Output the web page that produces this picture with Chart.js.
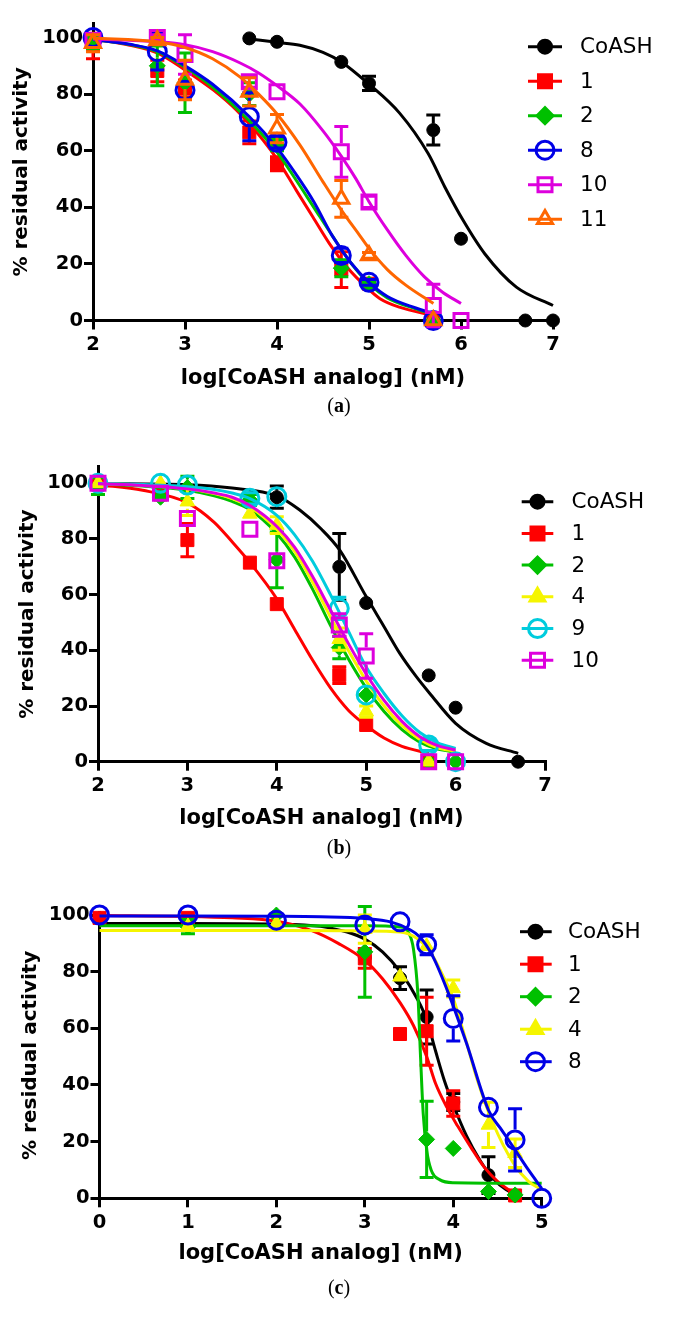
<!DOCTYPE html>
<html>
<head>
<meta charset="utf-8">
<script src="https://cdn.jsdelivr.net/npm/chart.js@4.4.1/dist/chart.umd.min.js"></script>
<style>
  html, body { margin: 0; padding: 0; background: #fff; }
  body { width: 678px; height: 1325px; position: relative; overflow: hidden; }
  canvas { position: absolute; left: 0; }
  .caption { position: absolute; left: 0; width: 678px; height: 22px; line-height: 22px; text-align: center;
             font-family: 'Liberation Serif', serif; font-size: 20px; color: #000; }
</style>
</head>
<body>
<canvas id="chartA" width="678" height="400" style="top:0"></canvas>
<div class="caption" style="top:394px">(<b>a</b>)</div>
<canvas id="chartB" width="678" height="410" style="top:430px"></canvas>
<div class="caption" style="top:836px">(<b>b</b>)</div>
<canvas id="chartC" width="678" height="410" style="top:870px"></canvas>
<div class="caption" style="top:1276px">(<b>c</b>)</div>

<script>
// ---------- panel (a) ----------
const concA = [2, 2.699, 3, 3.699, 4, 4.699, 5, 5.699, 6, 6.699, 7];
const coashA = [null, null, null, 99.7, 98.5, 91.4, 83.8, 67.3, 28.9, 0, 0];
const coashAErr = [0, 0, 0, 0, 0, 0, 2.5, 5.3, 0, 0, 0];
const cmp1A = [97, 88.2, 82, 66.5, 55.4, 18, 13, 0, null, null, null];
const cmp1AErr = [4.5, 3.8, 3, 4, 2.5, 6.3, 0, 0, 0, 0, 0];
const cmp2A = [98, 90, 84, 80, 62, 18.5, 13, 0, null, null, null];
const cmp2AErr = [2, 7, 10.5, 4, 2, 3, 1, 0, 0, 0, 0];
const cmp8A = [100, 95, 81.4, 72, 63, 23, 13.5, 0, null, null, null];
const cmp8AErr = [0, 6.5, 3, 8.5, 2, 2.5, 1, 0, 0, 0, 0];
const cmp10A = [99, 100, 94, 84.4, 80.8, 59.6, 41.9, 5.3, 0, null, null];
const cmp10AErr = [0, 1, 7, 2, 0, 9, 2, 7.5, 0, 0, 0];
const cmp11A = [98, 99, 85, 80.8, 67.8, 43, 23, 0, null, null, null];
const cmp11AErr = [3, 1, 7, 5, 5, 6.5, 1, 0, 0, 0, 0];

// fitted curves
const fitCoashAX = [3.699, 4.0, 4.248, 4.5, 4.70, 4.99, 5.335, 5.643, 5.824, 6.023, 6.258, 6.602, 7.0];
const fitCoashAY = [99.5, 98.3, 97.3, 94.8, 91.4, 83.8, 73.2, 59, 47.2, 35.4, 23.6, 11.8, 5.3];
const fit1AX = [2.0, 2.4, 2.71, 3.0, 3.31, 3.56, 3.85, 4.01, 4.21, 4.39, 4.57, 4.76, 4.97, 5.12, 5.33, 5.7];
const fit1AY = [99.4, 97.3, 94.4, 88.5, 81.4, 74.3, 63.7, 56.6, 46, 36.6, 27.2, 18.9, 11.8, 7.7, 4.7, 1.8];
const fit2AX = [2.0, 2.4, 2.7, 3.0, 3.3, 3.7, 4.0, 4.2, 4.4, 4.6, 4.8, 5.0, 5.2, 5.5, 5.7];
const fit2AY = [99.3, 97.5, 95, 89.5, 82.5, 70.5, 59.5, 50, 40, 30, 20.5, 13, 8, 4.2, 2.2];
const fit8AX = [2.0, 2.4, 2.7, 3.0, 3.3, 3.7, 4.0, 4.2, 4.4, 4.6, 4.8, 5.0, 5.2, 5.5, 5.7];
const fit8AY = [99.3, 97.6, 95.3, 90, 83.5, 72, 61, 52, 42, 30, 20.5, 13.5, 8.5, 4.5, 2.5];
const fit10AX = [2.0, 2.7, 3.0, 3.3, 3.6, 3.8, 4.0, 4.25, 4.5, 4.7, 4.85, 5.0, 5.2, 5.4, 5.6, 5.8, 6.0];
const fit10AY = [99.5, 98.5, 97.5, 95, 91, 87.5, 83, 76.5, 67, 58, 50.5, 42, 32, 23, 15.5, 10, 6];
const fit11AX = [2.0, 2.7, 3.0, 3.3, 3.6, 3.8, 4.0, 4.25, 4.5, 4.7, 4.9, 5.0, 5.2, 5.4, 5.7];
const fit11AY = [99.8, 98.5, 96.5, 92.5, 86, 80, 73, 62, 49, 39, 30, 25.5, 18, 12.5, 6];

// ---------- panel (b) ----------
const concB = [2, 2.699, 3, 3.699, 4, 4.699, 5, 5.699, 6, 6.699];
const coashB = [null, null, null, null, 95, 70, 57, 31, 19.4, 0];
const coashBErr = [0, 0, 0, 0, 4, 12, 0, 0, 0, 0];
const cmp1B = [100, 96, 79.6, 71.5, 56.6, 31.1, 13.2, 0, null, null];
const cmp1BErr = [0, 0, 6, 0, 0, 3, 0, 0, 0, 0];
const cmp2B = [99, 95, 98.5, 94, 72.5, 41, 24, 0, 0, null];
const cmp2BErr = [3, 0, 4, 2, 10, 4, 0, 0, 0, 0];
const cmp4B = [100, 100, 93.4, 89, 85, 44, 18, 0, null, null];
const cmp4BErr = [0, 0, 5, 0, 3, 4, 2, 0, 0, 0];
const cmp9B = [100, 100, 99.4, 94.6, 95.2, 55.1, 24, 6, 0, null];
const cmp9BErr = [0, 0, 0, 2, 0, 4, 0, 2, 0, 0];
const cmp10B = [100, 96.4, 87.4, 83.5, 72.2, 49.1, 38, 0, 0, null];
const cmp10BErr = [0, 0, 0, 0, 0, 4, 8, 0, 0, 0];

const fitCoashBX = [2, 3, 3.5, 4.0, 4.257, 4.5, 4.704, 5.0, 5.2, 5.374, 5.55, 5.709, 6.0, 6.343, 6.7];
const fitCoashBY = [99.9, 99.5, 98.3, 95.5, 90.4, 83.5, 76, 59.3, 48.5, 39, 31, 24.6, 13.8, 6.6, 3];
const fit1BX = [2, 2.5, 3, 3.3, 3.5, 3.7, 4.0, 4.2, 4.4, 4.6, 4.8, 5.0, 5.2, 5.4, 5.7];
const fit1BY = [99.5, 97.5, 93, 86, 79, 71.5, 58.5, 47.5, 36.5, 26.5, 18.5, 13, 8.5, 5.5, 3];
const fitGridBX = [2, 2.5, 3, 3.3, 3.5, 3.7, 4.0, 4.2, 4.4, 4.6, 4.8, 5.0, 5.2, 5.4, 5.6, 5.8, 6.0];
const fit2BY = [99.8, 99, 97.5, 95.5, 93.5, 90.5, 82, 73.5, 62, 49, 37, 26.5, 18, 11.5, 7, 4.5, 3.5];
const fit4BY = [99.9, 99.3, 98, 96.3, 94.5, 91.5, 83.5, 75.5, 64.5, 52, 40, 29, 20, 13, 8, 5, 3.8];
const fit9BY = [99.9, 99.6, 98.8, 97.8, 96.5, 94.5, 88.5, 81.5, 72, 60, 47, 34, 24.5, 16.5, 10.5, 6.8, 4.8];
const fit10BY = [99.8, 99.2, 98, 96.5, 95, 92, 84.5, 77, 66.5, 54.5, 42.5, 31.5, 22, 14.5, 9, 5.8, 4.2];

// ---------- panel (c) ----------
const concC = [0, 1, 2, 3, 3.398, 3.699, 4, 4.398, 4.699, 5];
const coashC = [null, null, null, 85, 77.7, 64, 34, 8.2, 1, null];
const coashCErr = [0, 0, 0, 0, 4, 9.5, 3, 6.5, 0, 0];
const cmp1C = [99, 99, null, 84.7, 58, 59, 33.5, null, 1, null];
const cmp1CErr = [0, 0, 0, 3.5, 0, 12, 4.5, 0, 0, 0];
const cmp2C = [null, 95.9, 100, 87, null, 20.8, 17.6, 2.4, 1.2, null];
const cmp2CErr = [0, 2.5, 0, 16, 0, 13.5, 0, 0, 0, 0];
const cmp4C = [null, 96, 97, 95, 78.2, 89, 74.1, 25.9, 15.9, null];
const cmp4CErr = [0, 0, 0, 5, 0, 0, 3, 8, 5, 0];
const cmp8C = [100, 100, 98.2, 96.5, 97.6, 89.5, 63.5, 32.1, 20.6, 0];
const cmp8CErr = [0, 0, 0, 0, 0, 3.5, 8, 0, 11, 0];

const fitCoashCX = [0, 1, 2, 2.5, 2.8, 3.0, 3.2, 3.4, 3.6, 3.7, 3.8, 3.9, 4.0, 4.15, 4.3, 4.45, 4.6, 4.75];
const fitCoashCY = [97, 97, 96.8, 96, 94, 91.5, 87, 80, 70, 63, 52, 41.5, 33, 22, 13.5, 7, 3, 0.8];
const fit1CX = [0, 1, 1.5, 2, 2.4, 2.7, 3.0, 3.2, 3.4, 3.55, 3.7, 3.8, 3.93, 4.05, 4.2, 4.35, 4.5, 4.72];
const fit1CY = [99.8, 99.5, 99, 97.8, 94.5, 90, 84, 77.5, 69, 61, 50, 40.5, 32, 25.5, 18, 11, 6, 1];
const fit2CX = [0, 3.0, 3.4, 3.5, 3.55, 3.6, 3.63, 3.66, 3.7, 3.75, 3.85, 4.0, 5.0];
const fit2CY = [96.2, 96.2, 95.8, 93.5, 88, 72, 50, 30, 17, 10, 6.5, 5.5, 5.3];
const fit4CX = [0, 2, 3.0, 3.4, 3.6, 3.75, 3.9, 4.0, 4.15, 4.27, 4.45, 4.68, 4.85, 5.0];
const fit4CY = [94.5, 94.5, 94.4, 94, 91.5, 86.5, 77.5, 70.5, 55, 42, 26.5, 12.4, 6, 3];
const fit8CX = [0, 1, 2, 2.5, 3.0, 3.3, 3.5, 3.62, 3.77, 3.96, 4.15, 4.4, 4.55, 4.68, 4.85, 5.0];
const fit8CY = [99.7, 99.7, 99.6, 99.4, 98.8, 97.5, 95, 92.3, 85.3, 71.2, 54.7, 31, 24, 18, 10, 3.5];

const yTicks = [0, 20, 40, 60, 80, 100];
const xTitle = 'log[CoASH analog] (nM)';
const yTitle = '% residual activity';

const BLACK = '#000000', RED = '#FF0000', GREEN = '#00C000', BLUE = '#0000E6',
      MAGENTA = '#DD00DD', ORANGE = '#FF6600', YELLOW = '#F5F500', CYAN = '#00CCDD';

const marks = {
  dot:   { style: 'circle',   r: 6.5, hollow: false, edge: 6.5 },
  sq:    { style: 'rect',     r: 9.2, hollow: false, edge: 6.5 },
  dia:   { style: 'rectRot',  r: 8,   hollow: false, edge: 8 },
  tri:   { style: 'triangle', r: 8.5, hollow: false, edge: 7 },
  ocirc: { style: 'circle',   r: 9,   hollow: true,  edge: 10.5 },
  osq:   { style: 'rect',     r: 9.9, hollow: true,  edge: 8.5 },
  otri:  { style: 'triangle', r: 8.7, hollow: true,  edge: 9 }
};

function series(label, color, mark, conc, ys, errs, fx, fy) {
  return { label, color, mark: marks[mark], conc, ys, errs, fx, fy };
}

const panels = [
  { canvas: 'chartA', h: 400, xMin: 2, xMax: 7, yMax: 105,
    pad: { left: 33, top: 23.4, right: 125, bottom: 29.5 },
    yTitleX: 27, xTitleY: 384,
    leg: { x1: 528, x2: 562, mx: 545, tx: 580, y0: 46.7, step: 34.5 },
    series: [
      series('CoASH', BLACK, 'dot', concA, coashA, coashAErr, fitCoashAX, fitCoashAY),
      series('1', RED, 'sq', concA, cmp1A, cmp1AErr, fit1AX, fit1AY),
      series('2', GREEN, 'dia', concA, cmp2A, cmp2AErr, fit2AX, fit2AY),
      series('8', BLUE, 'ocirc', concA, cmp8A, cmp8AErr, fit8AX, fit8AY),
      series('10', MAGENTA, 'osq', concA, cmp10A, cmp10AErr, fit10AX, fit10AY),
      series('11', ORANGE, 'otri', concA, cmp11A, cmp11AErr, fit11AX, fit11AY)
    ] },
  { canvas: 'chartB', h: 410, xMin: 2, xMax: 7, yMax: 106,
    pad: { left: 38, top: 36.6, right: 133, bottom: 28.3 },
    yTitleX: 32.5, xTitleY: 394,
    leg: { x1: 521.7, x2: 553.3, mx: 537.5, tx: 571.5, y0: 71.7, step: 31.7 },
    series: [
      series('CoASH', BLACK, 'dot', concB, coashB, coashBErr, fitCoashBX, fitCoashBY),
      series('1', RED, 'sq', concB, cmp1B, cmp1BErr, fit1BX, fit1BY),
      series('2', GREEN, 'dia', concB, cmp2B, cmp2BErr, fitGridBX, fit2BY),
      series('4', YELLOW, 'tri', concB, cmp4B, cmp4BErr, fitGridBX, fit4BY),
      series('9', CYAN, 'ocirc', concB, cmp9B, cmp9BErr, fitGridBX, fit9BY),
      series('10', MAGENTA, 'osq', concB, cmp10B, cmp10BErr, fitGridBX, fit10BY)
    ] },
  { canvas: 'chartC', h: 410, xMin: 0, xMax: 5, yMax: 101,
    pad: { left: 39.5, top: 42.2, right: 136.3, bottom: 31.7 },
    yTitleX: 35.5, xTitleY: 389,
    leg: { x1: 520, x2: 551.7, mx: 535.5, tx: 568, y0: 61.7, step: 32.5 },
    series: [
      series('CoASH', BLACK, 'dot', concC, coashC, coashCErr, fitCoashCX, fitCoashCY),
      series('1', RED, 'sq', concC, cmp1C, cmp1CErr, fit1CX, fit1CY),
      series('2', GREEN, 'dia', concC, cmp2C, cmp2CErr, fit2CX, fit2CY),
      series('4', YELLOW, 'tri', concC, cmp4C, cmp4CErr, fit4CX, fit4CY),
      series('8', BLUE, 'ocirc', concC, cmp8C, cmp8CErr, fit8CX, fit8CY)
    ] }
];

const tickFont = { family: "'DejaVu Sans', sans-serif", size: 19.5, weight: 'bold' };

// error bars go under the markers of their own dataset, title + legend on top
const decoPlugin = {
  id: 'deco',
  beforeDatasetDraw(chart, args) {
    const ds = chart.data.datasets[args.index];
    if (!ds.errs) return;
    const ctx = chart.ctx;
    const yScale = chart.scales.y;
    ctx.save();
    ctx.strokeStyle = ds.borderColor;
    ctx.lineWidth = 3;
    ds.data.forEach((d, i) => {
      const e = ds.errs[i];
      if (!e) return;
      const el = args.meta.data[i];
      const px = el.x, py = el.y;
      const top = yScale.getPixelForValue(d.y + e);
      const bot = yScale.getPixelForValue(d.y - e);
      ctx.beginPath();
      if (py - top > ds.edge) { ctx.moveTo(px, py - ds.edge); ctx.lineTo(px, top); }
      if (bot - py > ds.edge) { ctx.moveTo(px, py + ds.edge); ctx.lineTo(px, bot); }
      ctx.moveTo(px - 7, top); ctx.lineTo(px + 7, top);
      ctx.moveTo(px - 7, bot); ctx.lineTo(px + 7, bot);
      ctx.stroke();
    });
    ctx.restore();
  },
  afterDraw(chart) {
    const p = chart.options.plugins.deco;
    const ctx = chart.ctx;
    const area = chart.chartArea;
    ctx.save();
    ctx.fillStyle = '#000';
    ctx.font = "bold 21px 'DejaVu Sans', sans-serif";
    ctx.textAlign = 'center';
    ctx.textBaseline = 'alphabetic';
    ctx.fillText(xTitle, (area.left + area.right) / 2, p.xTitleY);
    ctx.save();
    ctx.translate(p.yTitleX, (area.top + area.bottom) / 2);
    ctx.rotate(-Math.PI / 2);
    ctx.font = "bold 20px 'DejaVu Sans', sans-serif";
    ctx.fillText(yTitle, 0, 0);
    ctx.restore();

    const lg = p.leg;
    p.series.forEach((s, k) => {
      const y = lg.y0 + k * lg.step;
      ctx.strokeStyle = s.color;
      ctx.lineWidth = 3;
      ctx.beginPath();
      ctx.moveTo(lg.x1, y);
      ctx.lineTo(lg.x2, y);
      ctx.stroke();
      ctx.fillStyle = s.mark.hollow ? 'rgba(0,0,0,0)' : s.color;
      Chart.helpers.drawPoint(ctx, {
        pointStyle: s.mark.style, radius: s.mark.r, rotation: 0,
        borderWidth: s.mark.hollow ? 3 : 1
      }, lg.mx, y);
      ctx.fillStyle = '#000';
      ctx.font = "21.5px 'DejaVu Sans', sans-serif";
      ctx.textAlign = 'left';
      ctx.textBaseline = 'middle';
      ctx.fillText(s.label, lg.tx, y + 1);
    });
    ctx.restore();
  }
};

function buildPanel(p) {
  const datasets = [];
  p.series.forEach(s => {
    datasets.push({
      data: s.fx.map((x, i) => ({ x, y: s.fy[i] })),
      showLine: true,
      borderColor: s.color,
      borderWidth: 3,
      pointRadius: 0,
      cubicInterpolationMode: 'monotone',
      fill: false,
      clip: false
    });
    const pts = [], errs = [];
    s.conc.forEach((x, i) => {
      if (s.ys[i] === null) return;
      pts.push({ x, y: s.ys[i] });
      errs.push(s.errs[i]);
    });
    datasets.push({
      data: pts,
      errs,
      edge: s.mark.edge,
      showLine: false,
      pointStyle: s.mark.style,
      pointRadius: s.mark.r,
      pointBackgroundColor: s.mark.hollow ? 'rgba(0,0,0,0)' : s.color,
      pointBorderColor: s.color,
      pointBorderWidth: s.mark.hollow ? 3 : 1,
      borderColor: s.color,
      clip: false
    });
  });
  // later series drawn on top
  datasets.forEach((d, k) => { d.order = 1000 - k; });

  new Chart(document.getElementById(p.canvas), {
    type: 'scatter',
    data: { datasets },
    options: {
      responsive: false,
      animation: false,
      events: [],
      layout: { padding: p.pad },
      plugins: {
        legend: { display: false },
        tooltip: { enabled: false },
        deco: p
      },
      scales: {
        x: {
          type: 'linear',
          min: p.xMin, max: p.xMax,
          afterFit: sc => { sc.height = 50; },
          border: { display: true, color: '#000', width: 3 },
          grid: { drawOnChartArea: false, drawTicks: true, tickLength: 9, tickWidth: 3, tickColor: '#000', color: '#000', lineWidth: 3 },
          ticks: { stepSize: 1, color: '#000', font: tickFont, padding: 4, maxRotation: 0 }
        },
        y: {
          type: 'linear',
          min: 0, max: p.yMax,
          afterFit: sc => { sc.width = 60; },
          afterBuildTicks: sc => { sc.ticks = yTicks.map(v => ({ value: v })); },
          border: { display: true, color: '#000', width: 3 },
          grid: { drawOnChartArea: false, drawTicks: true, tickLength: 9, tickWidth: 3, tickColor: '#000', color: '#000', lineWidth: 3 },
          ticks: { color: '#000', font: tickFont, padding: 1 }
        }
      }
    },
    plugins: [decoPlugin]
  });
}

panels.forEach(buildPanel);
</script>
</body>
</html>
